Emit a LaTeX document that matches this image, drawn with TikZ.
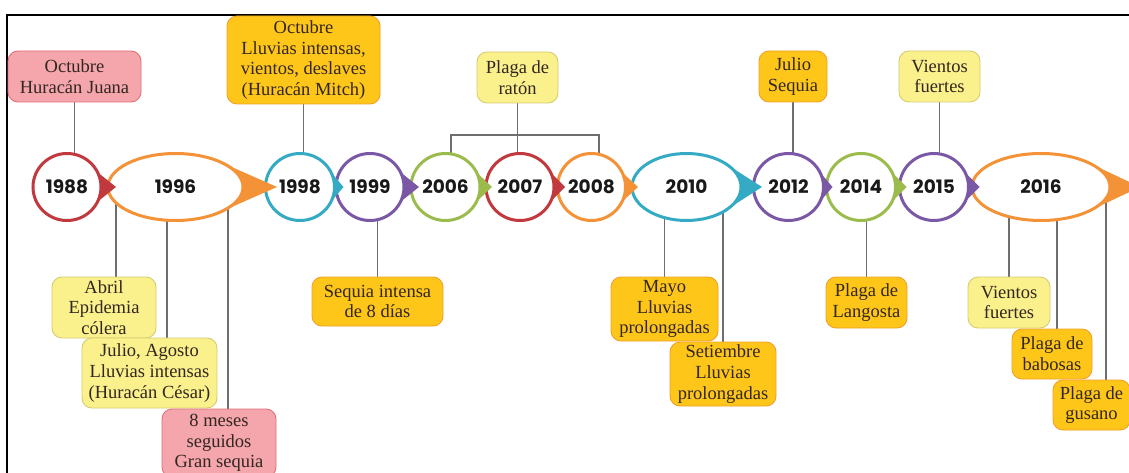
\documentclass[tikz,border=0pt]{standalone}
\usepackage{fontspec}
\setmainfont{Liberation Serif}
\newfontfamily\yearfont{Poppins}
\usetikzlibrary{shapes.geometric}
\pgfdeclarelayer{background}
\pgfsetlayers{background,main}
\definecolor{cRed}{RGB}{193,57,62}
\definecolor{cOrange}{RGB}{243,146,55}
\definecolor{cTeal}{RGB}{52,170,196}
\definecolor{cPurple}{RGB}{122,88,166}
\definecolor{cGreen}{RGB}{155,187,77}
\definecolor{cPink}{RGB}{244,166,172}
\definecolor{cPinkD}{RGB}{226,112,120}
\definecolor{cGold}{RGB}{255,198,26}
\definecolor{cGoldD}{RGB}{240,160,40}
\definecolor{cYel}{RGB}{250,240,140}
\definecolor{cYelD}{RGB}{214,204,112}
\definecolor{cText}{RGB}{50,38,32}
\definecolor{cLine}{RGB}{110,110,110}
\newcommand\yrshape[6]{%
  \fill[#4] ({#2+#3*cos(#6)},{187-33.5*sin(#6)}) -- ({#2+#3+#5},187)
     -- ({#2+#3*cos(#6)},{187+33.5*sin(#6)}) -- cycle;
  \node[yrnode, draw=#4, minimum width={2*#3}] (y#1) at (#2,187) {#1};
}
\begin{document}
\begin{tikzpicture}[x=1pt,y=-1pt,
  yrnode/.style={ellipse, fill=white, line width=3, minimum height=67, inner sep=0,
    font=\yearfont\bfseries\fontsize{18.5}{20}\selectfont, text=black!90},
  evbox/.style={rectangle, rounded corners=10, line width=0.9, align=center, inner sep=0,
    font=\fontsize{18.5}{20.7}\selectfont, text=cText},
  pinkbox/.style={evbox, fill=cPink, draw=cPinkD},
  goldbox/.style={evbox, fill=cGold, draw=cGoldD},
  ylwbox/.style={evbox, fill=cYel, draw=cYelD},
  conn/.style={draw=cLine, line width=1.1}]
\useasboundingbox (0,0) rectangle (1129,473);
\clip (0,0) rectangle (1129,473);
\draw[line width=1.5] (7,473) -- (7,15) -- (1129,15);

% timeline shapes, right to left
\yrshape{2016}{1041}{69}{cOrange}{30}{45}
\yrshape{2015}{934}{34.5}{cPurple}{11}{26}
\yrshape{2014}{861}{34.5}{cGreen}{11}{26}
\yrshape{2012}{788.5}{35}{cPurple}{9}{26}
\yrshape{2010}{686.5}{54.5}{cTeal}{21}{45}
\yrshape{2008}{591.5}{34}{cOrange}{12.5}{26}
\yrshape{2007}{520}{34}{cRed}{11}{26}
\yrshape{2006}{445.5}{34.5}{cGreen}{12}{26}
\yrshape{1999}{370}{34}{cPurple}{15}{26}
\yrshape{1998}{300}{34.5}{cTeal}{9}{26}
\yrshape{1996}{175.5}{67.5}{cOrange}{34}{45}
\yrshape{1988}{67}{34}{cRed}{15}{26}

% event boxes
\node[pinkbox, minimum width=133, minimum height=51] (juana) at (74.5,76.5) {Octubre\\Huracán Juana};
\node[goldbox, minimum width=153, minimum height=88] (mitch) at (303.5,60) {Octubre\\Lluvias intensas,\\vientos, deslaves\\(Huracán Mitch)};
\node[ylwbox, minimum width=81, minimum height=51] (raton) at (517.5,77.5) {Plaga de\\ratón};
\node[goldbox, minimum width=68, minimum height=51] (julioseq) at (793,76.5) {Julio\\Sequia};
\node[ylwbox, minimum width=81, minimum height=51] (vientosA) at (939.5,76.5) {Vientos\\fuertes};
\node[ylwbox, minimum width=104, minimum height=61] (abril) at (104,307.5) {Abril\\Epidemia\\cólera};
\node[ylwbox, minimum width=135, minimum height=70] (cesar) at (149.5,373) {Julio, Agosto\\Lluvias intensas\\(Huracán César)};
\node[pinkbox, minimum width=114, minimum height=68] (meses) at (219,443) {8 meses\\seguidos\\Gran sequia};
\node[goldbox, minimum width=131, minimum height=49] (sequia8) at (377.5,301.5) {Sequia intensa\\de 8 días};
\node[goldbox, minimum width=107, minimum height=64] (mayo) at (664.5,309) {Mayo\\Lluvias\\prolongadas};
\node[goldbox, minimum width=106, minimum height=64] (setiembre) at (723,374) {Setiembre\\Lluvias\\prolongadas};
\node[goldbox, minimum width=81, minimum height=51] (langosta) at (866.5,302.5) {Plaga de\\Langosta};
\node[ylwbox, minimum width=82, minimum height=51] (vientosB) at (1009,302.5) {Vientos\\fuertes};
\node[goldbox, minimum width=80, minimum height=50] (babosas) at (1052,354) {Plaga de\\babosas};
\node[goldbox, minimum width=77, minimum height=50] (gusano) at (1091.5,405) {Plaga de\\gusano};

% connectors (behind everything)
\begin{pgfonlayer}{background}
\fill[white] (0,0) rectangle (1129,473);
\draw[conn] (juana.south) -- (juana.south |- y1988.center);
\draw[conn] (mitch.south) -- (mitch.south |- y1998.center);
\draw[conn] (julioseq.south) -- (julioseq.south |- y2012.center);
\draw[conn] (vientosA.south) -- (vientosA.south |- y2015.center);
\coordinate (brL) at ([xshift=5.5]y2006.center |- 0,135);
\coordinate (brR) at ([xshift=7.5]y2008.center |- 0,135);
\draw[conn] (raton.south) -- (raton.south |- y2007.center);
\draw[conn] (y2006.center -| brL) -- (brL) -- (brR) -- (y2008.center -| brR);
\draw[conn] ([xshift=12]abril.north) -- ([xshift=12]abril.north |- y1996.center);
\draw[conn] ([xshift=17.5]cesar.north) -- ([xshift=17.5]cesar.north |- y1996.center);
\draw[conn] ([xshift=9]meses.north) -- ([xshift=9]meses.north |- y1996.center);
\draw[conn] (sequia8.north) -- (sequia8.north |- y1999.center);
\draw[conn] (mayo.north) -- (mayo.north |- y2010.center);
\draw[conn] (setiembre.north) -- (setiembre.north |- y2010.center);
\draw[conn] (langosta.north) -- (langosta.north |- y2014.center);
\draw[conn] (vientosB.north) -- (vientosB.north |- y2016.center);
\draw[conn] ([xshift=5]babosas.north) -- ([xshift=5]babosas.north |- y2016.center);
\draw[conn] ([xshift=14.5]gusano.north) -- ([xshift=14.5]gusano.north |- y2016.center);
\end{pgfonlayer}
\end{tikzpicture}
\end{document}
